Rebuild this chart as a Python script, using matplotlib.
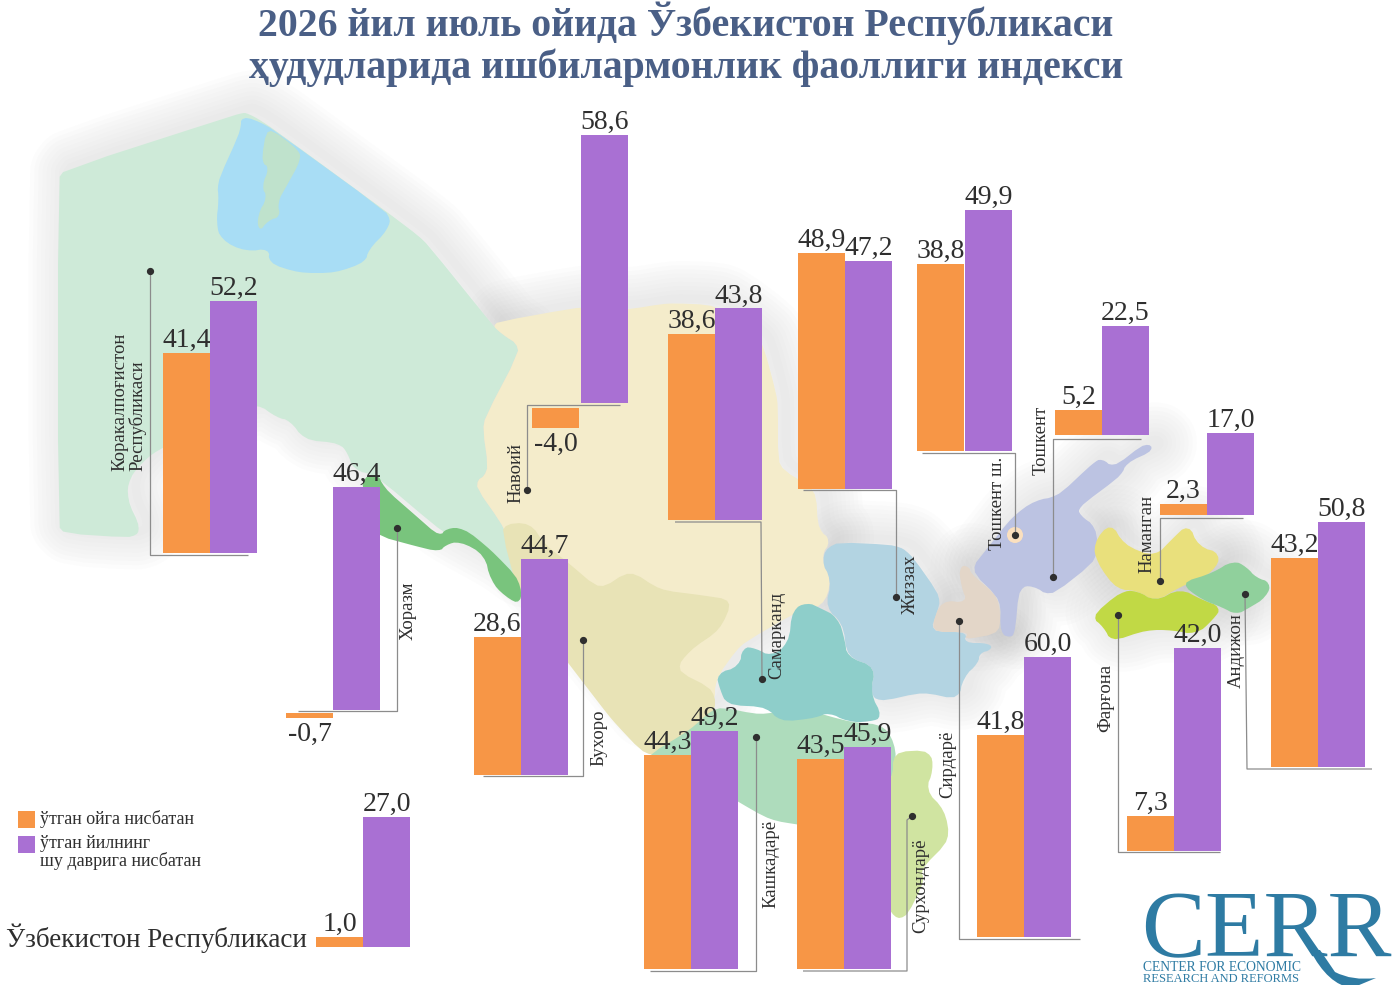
from matplotlib import pyplot as plt
from matplotlib.patches import Polygon, Circle, Rectangle, PathPatch
from matplotlib.path import Path
import numpy as np

plt.rcParams['font.family'] = ['Liberation Serif', 'DejaVu Serif']

ORANGE = '#F79646'
PURPLE = '#A970D3'
TEXT = '#2F2F2F'
LINE = '#8C8C8C'

# chart data
regions = ['Коракалпоғистон\nРеспубликаси', 'Навоий', 'Хоразм', 'Бухоро', 'Самарканд', 'Жиззах',
           'Тошкент ш.', 'Тошкент', 'Наманган', 'Андижон', 'Фарғона', 'Сирдарё', 'Кашкадарё',
           'Сурхондарё', 'Ўзбекистон Республикаси']
month_vals = [41.4, -4.0, -0.7, 28.6, 38.6, 48.9, 38.8, 5.2, 2.3, 43.2, 7.3, 41.8, 44.3, 43.5, 1.0]
year_vals = [52.2, 58.6, 46.4, 44.7, 43.8, 47.2, 49.9, 22.5, 17.0, 50.8, 42.0, 60.0, 49.2, 45.9, 27.0]

# where each pair stands on the picture
month_left = [163, 532, 286, 474, 668, 798, 917, 1055, 1160, 1271, 1127, 977, 644, 797, 316]
year_left = [210, 581, 333, 521, 715, 845, 965, 1102, 1207, 1318, 1174, 1024, 691, 844, 363]
month_base = [553, 408, 713, 775, 520, 489, 451, 435, 515, 767, 851, 937, 969, 969, 947]
year_base = [553, 403, 710, 775, 520, 489, 451, 435, 515, 767, 851, 937, 969, 969, 947]
month_scale = [4.83, 5.0, 7.0, 4.83, 4.83, 4.83, 4.83, 4.83, 4.83, 4.83, 4.83, 4.83, 4.83, 4.83, 10]
year_scale = [4.83, 4.57, 4.81, 4.83, 4.83, 4.83, 4.83, 4.83, 4.83, 4.83, 4.83, 4.67, 4.83, 4.83, 4.83]
BAR_W = 47

label_pos = [(129, 471), (516, 473), (408, 611), (599, 738), (777, 635), (911, 585), (997, 503),
             (1041, 440), (1147, 534), (1236, 651), (1106, 698), (948, 764), (771, 864), (921, 886)]

leaders = [
    [(150, 271), (150, 555), (248, 555)],
    [(527, 490), (527, 405), (620, 405)],
    [(397, 528), (397, 711), (298, 711)],
    [(583, 640), (583, 776), (483, 776)],
    [(762, 679), (761, 522), (675, 522)],
    [(896, 597), (896, 490), (803, 490)],
    [(1015, 535), (1015, 453), (922, 453)],
    [(1053, 577), (1053, 439), (1141, 439)],
    [(1160, 581), (1160, 518), (1243, 518)],
    [(1245, 594), (1247, 769), (1372, 769)],
    [(1118, 615), (1118, 852), (1220, 852)],
    [(959, 621), (959, 939), (1080, 939)],
    [(756, 737), (756, 971), (650, 971)],
    [(912, 816), (907, 820), (907, 971), (803, 971)],
]

# map outlines
karakalpak = [(58, 172), (241, 113), (248, 113), (268, 125), (391, 215), (424, 240), (491, 323), (500, 333),
              (522, 347), (482, 423), (489, 473), (473, 483), (504, 527), (522, 580), (495, 560), (440, 530),
              (375, 475), (353, 470), (348, 453), (339, 443), (304, 440), (290, 420), (277, 418), (257, 403),
              (210, 420), (180, 440), (152, 453), (129, 477), (127, 500), (141, 528), (134, 538), (58, 533)]
aral = [(241, 115), (267, 125), (391, 215), (388, 230), (368, 250), (366, 262), (335, 273), (299, 273),
        (268, 263), (270, 248), (246, 252), (221, 240), (216, 223), (219, 200), (217, 183), (241, 130)]
island = [(267, 126), (299, 150), (301, 160), (286, 187), (277, 203), (281, 217), (268, 220), (259, 233),
          (257, 215), (268, 197), (261, 187), (270, 167), (261, 163)]
khorezm = [(377, 472), (384, 488), (415, 515), (440, 537), (446, 528), (464, 528), (491, 550), (520, 580),
           (522, 605), (505, 597), (490, 580), (485, 555), (460, 541), (445, 545), (440, 552), (415, 546),
           (375, 535), (360, 480)]
navoi = [(491, 323), (580, 307), (625, 310), (668, 303), (715, 305), (762, 340), (778, 400), (778, 467),
         (816, 490), (818, 530), (832, 540), (820, 557), (832, 580), (823, 607), (800, 610), (740, 645),
         (715, 680), (715, 705), (640, 720), (560, 620), (522, 580), (504, 527), (473, 483), (489, 473),
         (482, 423), (522, 347), (500, 333)]
bukhara = [(500, 525), (530, 522), (545, 545), (565, 560), (600, 590), (630, 570), (660, 590), (700, 595),
           (733, 600), (720, 630), (690, 650), (675, 670), (715, 690), (715, 715), (690, 730), (665, 755),
           (645, 755), (612, 720), (585, 685), (520, 600)]
kashkadarya = [(645, 757), (690, 730), (716, 706), (760, 715), (800, 708), (850, 722), (885, 725), (897, 750),
               (893, 780), (860, 800), (845, 830), (800, 825), (770, 820), (735, 800), (690, 770)]
surkhandarya = [(893, 752), (930, 750), (934, 770), (925, 790), (945, 810), (950, 840), (920, 870), (925, 880),
                (905, 920), (890, 915), (880, 870), (870, 840), (845, 830), (860, 800), (893, 780)]
samarkand = [(716, 673), (740, 667), (742, 647), (756, 648), (771, 657), (789, 643), (792, 610), (807, 602),
             (820, 608), (838, 617), (845, 640), (847, 657), (876, 667), (870, 693), (883, 717), (870, 722),
             (847, 722), (829, 712), (816, 718), (780, 722), (767, 707), (727, 705), (720, 690)]
jizzakh = [(832, 542), (896, 545), (910, 553), (941, 597), (937, 613), (930, 632), (968, 632), (963, 643),
           (990, 643), (992, 650), (979, 653), (979, 663), (963, 677), (959, 700), (923, 692), (879, 702),
           (870, 693), (876, 667), (847, 657), (843, 623), (825, 608), (832, 580), (820, 560)]
syrdarya = [(959, 565), (970, 567), (970, 573), (999, 597), (1001, 633), (963, 640), (970, 632), (930, 632),
            (941, 600), (968, 603), (961, 587)]
tashkent = [(970, 570), (986, 550), (1012, 517), (1035, 500), (1057, 497), (1093, 463), (1102, 458), (1113, 468),
            (1146, 442), (1155, 450), (1126, 463), (1122, 475), (1079, 507), (1079, 515), (1097, 527), (1097, 560),
            (1050, 597), (1033, 585), (1019, 588), (1015, 633), (1010, 638), (1000, 633), (1001, 600)]
namangan = [(1093, 543), (1111, 522), (1124, 545), (1155, 557), (1171, 540), (1189, 523), (1198, 547), (1222, 553),
            (1213, 573), (1180, 587), (1155, 602), (1137, 590), (1117, 590), (1097, 563)]
fergana = [(1091, 617), (1120, 592), (1137, 590), (1155, 602), (1180, 588), (1202, 600), (1222, 607), (1213, 620),
           (1196, 635), (1173, 630), (1146, 630), (1111, 642), (1104, 627)]
andijan = [(1180, 583), (1213, 573), (1233, 560), (1247, 567), (1256, 578), (1271, 582), (1267, 597), (1249, 608),
           (1236, 615), (1222, 607), (1202, 600)]

map_parts = [(karakalpak, '#CEEAD8'), (aral, '#A8DDF5'), (island, '#BFE2CC'), (navoi, '#F4ECCB'),
             (bukhara, '#E8E3B6'), (khorezm, '#79C47D'), (kashkadarya, '#AEDCBC'), (surkhandarya, '#D0E4A1'),
             (jizzakh, '#B3D4E2'), (samarkand, '#8ECECA'), (syrdarya, '#E3D6C8'), (tashkent, '#BCC3E2'),
             (namangan, '#E9E07C'), (fergana, '#C1D945'), (andijan, '#90D09C')]
shadow_parts = [karakalpak, navoi, jizzakh, syrdarya, tashkent, namangan, fergana, andijan]


def smooth(points, cut=7):
    # round the corners by a fixed distance so long edges stay where they are
    pts = np.array(points, dtype=float)
    nxt = np.roll(pts, -1, axis=0)
    seg = nxt - pts
    length = np.hypot(seg[:, 0], seg[:, 1])[:, None]
    d = np.minimum(cut, length * 0.3) / length
    out = np.column_stack([pts + seg * d, nxt - seg * d]).reshape(-1, 2)
    nxt = np.roll(out, -1, axis=0)
    return np.column_stack([0.75 * out + 0.25 * nxt, 0.25 * out + 0.75 * nxt]).reshape(-1, 2)


fig = plt.figure(figsize=(14, 9.85), dpi=100)
ax = fig.add_axes([0, 0, 1, 1])
ax.set_xlim(0, 1400)
ax.set_ylim(985, 0)
ax.axis('off')

# soft shadow under the map
for part in shadow_parts:
    for lw in range(54, 4, -6):
        ax.add_patch(Polygon(smooth(part) + [8, -5], closed=True, fill=False, edgecolor='#777777',
                             linewidth=lw, alpha=0.016, joinstyle='round', zorder=1))

for part, color in map_parts:
    ax.add_patch(Polygon(smooth(part), closed=True, facecolor=color, edgecolor='none', zorder=2))
ax.add_patch(Circle((1015, 535), 8, facecolor='#FBE0BE', edgecolor='none', zorder=3))

# leader lines with their dots
for pts in leaders:
    xs, ys = zip(*pts)
    ax.plot(xs, ys, color=LINE, lw=0.9, zorder=4, solid_capstyle='butt')
    ax.plot(xs[0], ys[0], 'o', color='#2F2F2F', ms=4.2, zorder=5)

ax.bar(month_left, [-v * s for v, s in zip(month_vals, month_scale)], width=BAR_W, bottom=month_base,
       align='edge', color=ORANGE, zorder=6)
ax.bar(year_left, [-v * s for v, s in zip(year_vals, year_scale)], width=BAR_W, bottom=year_base,
       align='edge', color=PURPLE, zorder=6)


def fmt(v):
    return f'{v:.1f}'.replace('.', ',')


for i in range(len(month_vals)):
    for v, left, base, s in ((month_vals[i], month_left[i], month_base[i], month_scale[i]),
                             (year_vals[i], year_left[i], year_base[i], year_scale[i])):
        top = base - v * s
        y = top - 6 if v > 0 else top + 23
        ax.text(left + BAR_W / 2, y, fmt(v), ha='center', va='baseline', fontsize=20, color=TEXT, zorder=7)

for name, (x, y) in zip(regions[:-1], label_pos):
    if '\n' in name:
        ax.text(x, y, name, rotation=90, ha='center', va='bottom', multialignment='left',
                fontsize=13.5, color=TEXT, linespacing=1.0, zorder=7)
    else:
        ax.text(x, y, name, rotation=90, ha='center', va='center', fontsize=13.5, color=TEXT, zorder=7)

ax.text(6, 947, regions[-1], ha='left', va='baseline', fontsize=19.5, color=TEXT, zorder=7)

# title
ax.text(686, 23, '2026 йил июль ойида Ўзбекистон Республикаси', ha='center', va='center',
        fontsize=28.7, fontweight='bold', color='#4A5F86')
ax.text(686, 68, 'ҳудудларида ишбилармонлик фаоллиги индекси', ha='center', va='center',
        fontsize=28.7, fontweight='bold', color='#4A5F86')

# legend
ax.add_patch(Rectangle((18, 811), 17, 17, facecolor=ORANGE, edgecolor='none'))
ax.add_patch(Rectangle((18, 836), 17, 17, facecolor=PURPLE, edgecolor='none'))
ax.text(40, 819, 'ўтган ойга нисбатан', ha='left', va='center', fontsize=13, color=TEXT)
ax.text(40, 844, 'ўтган йилнинг', ha='left', va='center', fontsize=13, color=TEXT)
ax.text(40, 861, 'шу даврига нисбатан', ha='left', va='center', fontsize=13, color=TEXT)

# CERR logo
LOGO = '#2E7BA3'
ax.text(1141, 957, 'CERR', ha='left', va='baseline', fontsize=69, color=LOGO)
ax.text(1143, 971, 'CENTER FOR ECONOMIC', ha='left', va='baseline', fontsize=9.8, color=LOGO)
ax.text(1143, 982, 'RESEARCH AND REFORMS', ha='left', va='baseline', fontsize=9, color=LOGO)
tail = Path([(1310, 950), (1328, 985), (1352, 988), (1376, 978), (1352, 981), (1335, 972), (1320, 950), (1310, 950)],
            [Path.MOVETO, Path.CURVE3, Path.CURVE3, Path.LINETO, Path.CURVE3, Path.CURVE3, Path.LINETO, Path.CLOSEPOLY])
ax.add_patch(PathPatch(tail, facecolor=LOGO, edgecolor='none'))

fig.savefig('out.png', dpi=100)
